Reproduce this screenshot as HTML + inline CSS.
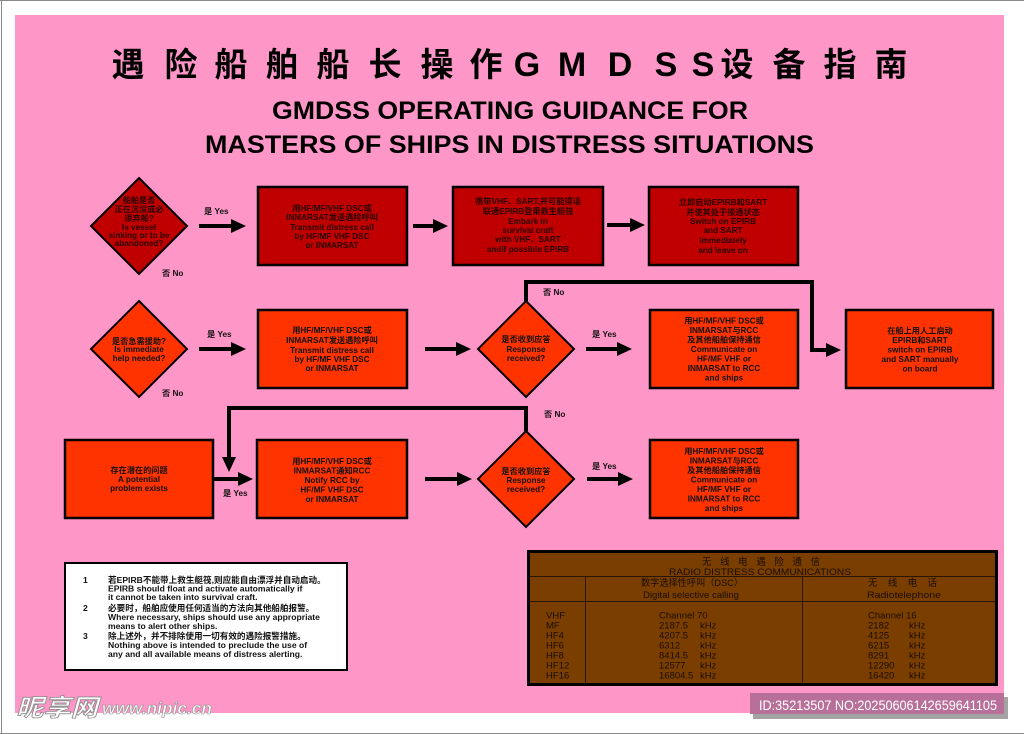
<!DOCTYPE html>
<html><head><meta charset="utf-8">
<style>
html,body{margin:0;padding:0;background:#fff;}
svg{display:block;}
text{font-family:"Liberation Sans","Noto Sans CJK SC",sans-serif;}
.t{font-size:8.2px;font-weight:bold;text-anchor:middle;fill:#111;}
.d{font-size:8.2px;font-weight:bold;text-anchor:middle;fill:#2a0000;}
.l{font-size:8.2px;font-weight:bold;fill:#111;}
.n{font-size:8.6px;font-weight:bold;fill:#111;}
.r{font-size:9.5px;fill:#1a0d00;}
.ct{font-size:33px;font-weight:bold;text-anchor:middle;fill:#000;font-family:"Liberation Sans","Noto Sans CJK SC",sans-serif;}
.lt{font-size:34px;font-weight:bold;text-anchor:middle;fill:#000;}
</style></head>
<body>
<svg width="1024" height="734" viewBox="0 0 1024 734" xmlns="http://www.w3.org/2000/svg">
<rect x="0" y="0" width="1024" height="734" fill="#fff"/>
<line x1="0" y1="0.5" x2="1024" y2="0.5" stroke="#888" stroke-width="1"/>
<line x1="1.5" y1="0" x2="1.5" y2="734" stroke="#888" stroke-width="1"/>
<line x1="0" y1="733.5" x2="1024" y2="733.5" stroke="#888" stroke-width="1"/>
<rect x="15" y="15" width="989" height="698" fill="#ff96c8"/>

<!-- Chinese title -->
<text class="ct" x="128" y="76">遇</text>
<text class="ct" x="181" y="76">险</text>
<text class="ct" x="231" y="76">船</text>
<text class="ct" x="282" y="76">舶</text>
<text class="ct" x="333" y="76">船</text>
<text class="ct" x="385" y="76">长</text>
<text class="ct" x="437" y="76">操</text>
<text class="ct" x="486" y="76">作</text>
<text class="lt" x="527" y="76">G</text>
<text class="lt" x="572" y="76">M</text>
<text class="lt" x="620" y="76">D</text>
<text class="lt" x="666" y="76">S</text>
<text class="lt" x="703" y="76">S</text>
<text class="ct" x="737" y="76">设</text>
<text class="ct" x="789" y="76">备</text>
<text class="ct" x="840" y="76">指</text>
<text class="ct" x="891" y="76">南</text>

<text x="272" y="119" font-size="25" font-weight="bold" textLength="476" lengthAdjust="spacingAndGlyphs" fill="#000">GMDSS OPERATING GUIDANCE FOR</text>
<text x="205" y="153" font-size="25" font-weight="bold" textLength="609" lengthAdjust="spacingAndGlyphs" fill="#000">MASTERS OF SHIPS IN DISTRESS SITUATIONS</text>

<!-- Connectors -->
<g stroke="#000" stroke-width="4" fill="none">
<line x1="199" y1="226" x2="233" y2="226"/>
<line x1="413" y1="226" x2="435" y2="226"/>
<line x1="607" y1="225" x2="632" y2="225"/>
<line x1="199" y1="349" x2="233" y2="349"/>
<line x1="425" y1="349" x2="458" y2="349"/>
<line x1="586" y1="349" x2="619" y2="349"/>
<polyline points="526,301 526,282 812,282 812,350 828,350"/>
<polyline points="526,431 526,408 229,408 229,459"/>
<line x1="214" y1="479" x2="240" y2="479"/>
<line x1="425" y1="479" x2="459" y2="479"/>
<line x1="587" y1="479" x2="620" y2="479"/>
</g>
<g fill="#000">
<polygon points="231,219 246,226 231,233"/>
<polygon points="433,219 448,226 433,233"/>
<polygon points="630,218 645,225 630,232"/>
<polygon points="231,342 246,349 231,356"/>
<polygon points="456,342 471,349 456,356"/>
<polygon points="617,342 632,349 617,356"/>
<polygon points="826,343 841,350 826,357"/>
<polygon points="222,457 229,472 236,457"/>
<polygon points="238,472 253,479 238,486"/>
<polygon points="457,472 472,479 457,486"/>
<polygon points="618,472 633,479 618,486"/>
</g>

<!-- Labels -->
<text class="l" x="204" y="214">是 Yes</text>
<text class="l" x="162" y="276">否 No</text>
<text class="l" x="207" y="337">是 Yes</text>
<text class="l" x="162" y="396">否 No</text>
<text class="l" x="543" y="295">否 No</text>
<text class="l" x="592" y="337">是 Yes</text>
<text class="l" x="544" y="417">否 No</text>
<text class="l" x="592" y="469">是 Yes</text>
<text class="l" x="223" y="496">是 Yes</text>

<!-- Diamonds -->
<polygon points="139,178 187,226 139,274 91,226" fill="#c00000" stroke="#000" stroke-width="2"/>
<text class="d" x="139" y="203">船舶是否</text>
<text class="d" x="139" y="212">正在沉没或必</text>
<text class="d" x="139" y="221">须弃船?</text>
<text class="d" x="139" y="230">Is vessel</text>
<text class="d" x="139" y="238">sinking or to be</text>
<text class="d" x="139" y="246">abandoned?</text>

<polygon points="139,301 187,349 139,397 91,349" fill="#ff3300" stroke="#000" stroke-width="2"/>
<text class="t" x="139" y="344">是否急需援助?</text>
<text class="t" x="139" y="352">Is immediate</text>
<text class="t" x="139" y="361">help needed?</text>

<polygon points="526,301 574,349 526,397 478,349" fill="#ff3300" stroke="#000" stroke-width="2"/>
<text class="t" x="526" y="342">是否收到应答</text>
<text class="t" x="526" y="352">Response</text>
<text class="t" x="526" y="361">received?</text>

<polygon points="526,431 574,479 526,527 478,479" fill="#ff3300" stroke="#000" stroke-width="2"/>
<text class="t" x="526" y="474">是否收到应答</text>
<text class="t" x="526" y="483">Response</text>
<text class="t" x="526" y="492">received?</text>

<!-- Boxes row 1 -->
<rect x="258" y="187" width="149" height="78" fill="#c00000" stroke="#000" stroke-width="2.5"/>
<text class="d" x="332" y="211">用HF/MF/VHF DSC或</text>
<text class="d" x="332" y="220">INMARSAT发送遇险呼叫</text>
<text class="d" x="332" y="230">Transmit distress call</text>
<text class="d" x="332" y="239">by HF/MF VHF DSC</text>
<text class="d" x="332" y="248">or INMARSAT</text>

<rect x="453" y="187" width="150" height="78" fill="#c00000" stroke="#000" stroke-width="2.5"/>
<text class="d" x="528" y="204">携带VHF、SART,并可能得话</text>
<text class="d" x="528" y="214">联通EPIRB登乘救生艇筏</text>
<text class="d" x="528" y="224">Embark in</text>
<text class="d" x="528" y="233">survival craft</text>
<text class="d" x="528" y="242">with VHF、SART</text>
<text class="d" x="528" y="252">andif possible EPIRB</text>

<rect x="649" y="187" width="149" height="78" fill="#c00000" stroke="#000" stroke-width="2.5"/>
<text class="d" x="723" y="205">立即启动EPIRB和SART</text>
<text class="d" x="723" y="215">并使其处于接通状态</text>
<text class="d" x="723" y="224">Switch on EPIRB</text>
<text class="d" x="723" y="233">and SART</text>
<text class="d" x="723" y="243">immediately</text>
<text class="d" x="723" y="253">and leave on</text>

<!-- Boxes row 2 -->
<rect x="258" y="310" width="149" height="78" fill="#ff3300" stroke="#000" stroke-width="2.5"/>
<text class="t" x="332" y="333">用HF/MF/VHF DSC或</text>
<text class="t" x="332" y="343">INMARSAT发送遇险呼叫</text>
<text class="t" x="332" y="353">Transmit distress call</text>
<text class="t" x="332" y="362">by HF/MF VHF DSC</text>
<text class="t" x="332" y="371">or INMARSAT</text>

<rect x="650" y="310" width="148" height="78" fill="#ff3300" stroke="#000" stroke-width="2.5"/>
<text class="t" x="724" y="323.5">用HF/MF/VHF DSC或</text>
<text class="t" x="724" y="333">INMARSAT与RCC</text>
<text class="t" x="724" y="342.5">及其他船舶保持通信</text>
<text class="t" x="724" y="352">Communicate on</text>
<text class="t" x="724" y="361.5">HF/MF VHF or</text>
<text class="t" x="724" y="371">INMARSAT to RCC</text>
<text class="t" x="724" y="380.5">and ships</text>

<rect x="846" y="310" width="147" height="78" fill="#ff3300" stroke="#000" stroke-width="2.5"/>
<text class="t" x="920" y="333.5">在船上用人工启动</text>
<text class="t" x="920" y="343">EPIRB和SART</text>
<text class="t" x="920" y="352.5">switch on EPIRB</text>
<text class="t" x="920" y="362">and SART manually</text>
<text class="t" x="920" y="371.5">on board</text>

<!-- Boxes row 3 -->
<rect x="65" y="440" width="148" height="78" fill="#ff3300" stroke="#000" stroke-width="2.5"/>
<text class="t" x="139" y="473">存在潜在的问题</text>
<text class="t" x="139" y="482">A potential</text>
<text class="t" x="139" y="491">problem exists</text>

<rect x="257" y="440" width="150" height="78" fill="#ff3300" stroke="#000" stroke-width="2.5"/>
<text class="t" x="332" y="464">用HF/MF/VHF DSC或</text>
<text class="t" x="332" y="473.5">INMARSAT通知RCC</text>
<text class="t" x="332" y="483">Notify RCC by</text>
<text class="t" x="332" y="492.5">HF/MF VHF DSC</text>
<text class="t" x="332" y="502">or INMARSAT</text>

<rect x="650" y="440" width="148" height="78" fill="#ff3300" stroke="#000" stroke-width="2.5"/>
<text class="t" x="724" y="454">用HF/MF/VHF DSC或</text>
<text class="t" x="724" y="463.5">INMARSAT与RCC</text>
<text class="t" x="724" y="473">及其他船舶保持通信</text>
<text class="t" x="724" y="482.5">Communicate on</text>
<text class="t" x="724" y="492">HF/MF VHF or</text>
<text class="t" x="724" y="501.5">INMARSAT to RCC</text>
<text class="t" x="724" y="511">and ships</text>

<!-- Notes box -->
<rect x="65" y="563" width="282" height="107" fill="#fff" stroke="#000" stroke-width="2"/>
<text class="n" x="83" y="583">1</text>
<text class="n" x="108" y="583">若EPIRB不能带上救生艇筏,则应能自由漂浮并自动启动。</text>
<text class="n" x="108" y="591.5">EPIRB should float and activate automatically if</text>
<text class="n" x="108" y="600">it cannot be taken into survival craft.</text>
<text class="n" x="83" y="611">2</text>
<text class="n" x="108" y="611">必要时，船舶应使用任何适当的方法向其他船舶报警。</text>
<text class="n" x="108" y="620">Where necessary, ships should use any appropriate</text>
<text class="n" x="108" y="629">means to alert other ships.</text>
<text class="n" x="83" y="639">3</text>
<text class="n" x="108" y="639">除上述外，并不排除使用一切有效的遇险报警措施。</text>
<text class="n" x="108" y="648">Nothing above is intended to preclude the use of</text>
<text class="n" x="108" y="657">any and all available means of distress alerting.</text>

<!-- Radio table -->
<rect x="528.5" y="551.5" width="468" height="133" fill="#7a3e00" stroke="#000" stroke-width="3"/>
<g stroke="#2a1500" stroke-width="1">
<line x1="530" y1="576.5" x2="995" y2="576.5"/>
<line x1="530" y1="601.5" x2="995" y2="601.5"/>
<line x1="585.5" y1="577" x2="585.5" y2="683"/>
<line x1="802.5" y1="577" x2="802.5" y2="683"/>
</g>
<text class="r" x="702" y="565" font-size="10" textLength="118" lengthAdjust="spacing">无线电遇险通信</text>
<text class="r" x="669" y="575" font-size="10" textLength="182" lengthAdjust="spacingAndGlyphs">RADIO DISTRESS COMMUNICATIONS</text>
<text class="r" x="641" y="586" textLength="102" lengthAdjust="spacingAndGlyphs">数字选择性呼叫（DSC）</text>
<text class="r" x="643" y="598" textLength="96" lengthAdjust="spacingAndGlyphs">Digital selective calling</text>
<text class="r" x="868" y="586" textLength="69" lengthAdjust="spacing">无线电话</text>
<text class="r" x="867" y="598" textLength="74" lengthAdjust="spacingAndGlyphs">Radiotelephone</text>

<g class="r">
<text class="r" x="546" y="618.5">VHF</text>
<text class="r" x="546" y="628.5">MF</text>
<text class="r" x="546" y="638.5">HF4</text>
<text class="r" x="546" y="648.5">HF6</text>
<text class="r" x="546" y="658.5">HF8</text>
<text class="r" x="546" y="668.5">HF12</text>
<text class="r" x="546" y="678.5">HF16</text>

<text class="r" x="659" y="618.5">Channel  70</text>
<text class="r" x="659" y="628.5">2187.5</text>
<text class="r" x="659" y="638.5">4207.5</text>
<text class="r" x="659" y="648.5">6312</text>
<text class="r" x="659" y="658.5">8414.5</text>
<text class="r" x="659" y="668.5">12577</text>
<text class="r" x="659" y="678.5">16804.5</text>
<text class="r" x="700" y="628.5">kHz</text>
<text class="r" x="700" y="638.5">kHz</text>
<text class="r" x="700" y="648.5">kHz</text>
<text class="r" x="700" y="658.5">kHz</text>
<text class="r" x="700" y="668.5">kHz</text>
<text class="r" x="700" y="678.5">kHz</text>

<text class="r" x="868" y="618.5">Channel  16</text>
<text class="r" x="868" y="628.5">2182</text>
<text class="r" x="868" y="638.5">4125</text>
<text class="r" x="868" y="648.5">6215</text>
<text class="r" x="868" y="658.5">8291</text>
<text class="r" x="868" y="668.5">12290</text>
<text class="r" x="868" y="678.5">16420</text>
<text class="r" x="909" y="628.5">kHz</text>
<text class="r" x="909" y="638.5">kHz</text>
<text class="r" x="909" y="648.5">kHz</text>
<text class="r" x="909" y="658.5">kHz</text>
<text class="r" x="909" y="668.5">kHz</text>
<text class="r" x="909" y="678.5">kHz</text>
</g>

<!-- Watermark -->
<text x="16" y="716" font-size="24" font-weight="bold" font-style="italic" fill="#fff" stroke="#8a8a8a" stroke-width="0.8" textLength="82" lengthAdjust="spacingAndGlyphs" style="font-family:'Noto Sans CJK SC','WenQuanYi Zen Hei',sans-serif;">昵享网</text>
<text x="102" y="714" font-size="17" font-weight="bold" font-style="italic" fill="#fff" stroke="#8a8a8a" stroke-width="0.6" textLength="110" lengthAdjust="spacingAndGlyphs">www.nipic.cn</text>

<rect x="753" y="697" width="255" height="22" fill="#a3a3a3"/>
<rect x="750" y="693" width="254" height="21" fill="#b8709a"/>
<text x="759" y="710" font-size="14" fill="#fff" textLength="238" lengthAdjust="spacingAndGlyphs">ID:35213507 NO:20250606142659641105</text>
</svg>
</body></html>
